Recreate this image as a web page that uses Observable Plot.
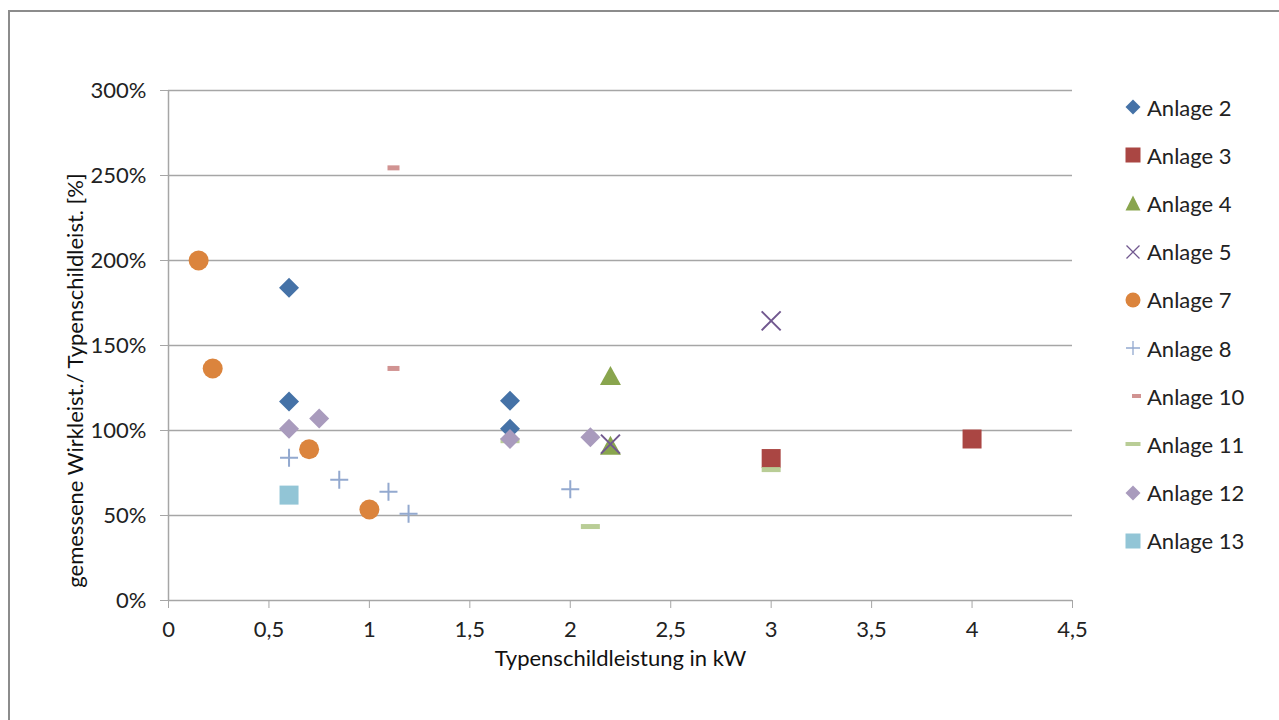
<!DOCTYPE html>
<html>
<head>
<meta charset="utf-8">
<script src="https://cdn.jsdelivr.net/npm/d3@7"></script>
<script src="https://cdn.jsdelivr.net/npm/@observablehq/plot@0.6"></script>
<style>
  html, body { margin: 0; padding: 0; background: #fff; width: 1279px; height: 720px; overflow: hidden; }
  #wrap { position: relative; width: 1279px; height: 720px; font-family: Lato, "Open Sans", sans-serif; }
  #border { position: absolute; left: 8px; top: 10px; width: 1400px; height: 800px; border-left: 2px solid #8c8c8c; border-top: 2px solid #8c8c8c; pointer-events: none; }
  #chart { position: absolute; left: 0; top: 0; }
  #legend { position: absolute; left: 1120px; top: 83px; }
  .item { display: flex; align-items: center; height: 48.2px; font-size: 22px; color: #222; }
  .item svg { width: 26px; height: 20px; margin-right: 1px; }
</style>
</head>
<body>
<div id="wrap">
  <div id="chart"></div>
  <div id="legend"></div>
  <div id="border"></div>
</div>
<script>
// ---- data ----
const seriesNames = ["Anlage 2","Anlage 3","Anlage 4","Anlage 5","Anlage 7","Anlage 8","Anlage 10","Anlage 11","Anlage 12","Anlage 13"];
const seriesColors = ["#4572A7","#AA4643","#89A54E","#71588F","#DB843D","#93A9CF","#D19392","#B9CD96","#A99BBD","#92C5D6"];

const a2x = [0.6, 0.6, 1.7, 1.7];          const a2y = [1.84, 1.17, 1.175, 1.01];
const a3x = [3, 4];                        const a3y = [0.835, 0.95];
const a4x = [2.2, 2.2];                    const a4y = [1.32, 0.91];
const a5x = [3, 2.2];                      const a5y = [1.645, 0.92];
const a7x = [0.15, 0.22, 0.7, 1.0];        const a7y = [2.0, 1.365, 0.89, 0.535];
const a8x = [0.6, 0.85, 1.095, 1.195, 2.0];const a8y = [0.84, 0.71, 0.64, 0.51, 0.655];
const a10x = [1.12, 1.12];                 const a10y = [2.545, 1.365];
const a11x = [2.1, 3, 1.7];                const a11y = [0.435, 0.77, 0.94];
const a12x = [0.6, 0.75, 1.7, 2.1];        const a12y = [1.01, 1.07, 0.95, 0.96];
const a13x = [0.6];                        const a13y = [0.62];

const xTicks = [0, 0.5, 1, 1.5, 2, 2.5, 3, 3.5, 4, 4.5];
const yTicks = [0, 0.5, 1, 1.5, 2, 2.5, 3];
const xTitle = "Typenschildleistung in kW";
const yTitle = "gemessene Wirkleist./ Typenschildleist. [%]";

// ---- custom symbols ----
const sym = {
  diamond: {draw(c){ const r=10; c.moveTo(0,-r); c.lineTo(r,0); c.lineTo(0,r); c.lineTo(-r,0); c.closePath(); }},
  square: {draw(c){ const r=9.5; c.moveTo(-r,-r); c.lineTo(r,-r); c.lineTo(r,r); c.lineTo(-r,r); c.closePath(); }},
  triangle: {draw(c){ c.moveTo(0,-10); c.lineTo(10.5,9); c.lineTo(-10.5,9); c.closePath(); }},
  times: {draw(c){ const r=9.5; c.moveTo(-r,-r); c.lineTo(r,r); c.moveTo(r,-r); c.lineTo(-r,r); }},
  circle: {draw(c){ const r=10; c.moveTo(r,0); c.arc(0,0,r,0,2*Math.PI); c.closePath(); }},
  plus: {draw(c){ const r=9; c.moveTo(-r,0); c.lineTo(r,0); c.moveTo(0,-r); c.lineTo(0,r); }},
  dashS: {draw(c){ const w=6, h=2.5; c.moveTo(-w,-h); c.lineTo(w,-h); c.lineTo(w,h); c.lineTo(-w,h); c.closePath(); }},
  dashL: {draw(c){ const w=9.5, h=2.5; c.moveTo(-w,-h); c.lineTo(w,-h); c.lineTo(w,h); c.lineTo(-w,h); c.closePath(); }}
};

const filled = (xs, ys, s, col) => Plot.dot(xs, {x: xs, y: ys, symbol: s, fill: col, stroke: "none"});
const stroked = (xs, ys, s, col) => Plot.dot(xs, {x: xs, y: ys, symbol: s, fill: "none", stroke: col, strokeWidth: 2});

const chart = Plot.plot({
  width: 1279,
  height: 720,
  marginLeft: 168,
  marginRight: 207,
  marginTop: 90,
  marginBottom: 120,
  style: {fontFamily: "Lato, 'Open Sans', sans-serif", fontSize: "22px", background: "transparent", overflow: "visible"},
  x: {domain: [0, 4.5]},
  y: {domain: [0, 3]},
  marks: [
    Plot.ruleY(yTicks, {stroke: "#a6a6a6", strokeWidth: 1.5}),
    Plot.ruleX([0], {stroke: "#a6a6a6", strokeWidth: 1.5}),
    Plot.axisY({ticks: yTicks, tickFormat: d => Math.round(d * 100) + "%", tickSize: 8, tickPadding: 14,
      stroke: "#a6a6a6", fill: "#222", fontSize: 22, label: null}),
    Plot.axisX({ticks: xTicks, tickFormat: d => String(d).replace(".", ","), tickSize: 8, tickPadding: 13,
      stroke: "#a6a6a6", fill: "#222", fontSize: 22, label: null}),
    Plot.text([yTitle], {frameAnchor: "left", textAnchor: "middle", text: d => d, rotate: -90, dx: -93, dy: 35, fill: "#111", fontSize: 22}),
    Plot.text([xTitle], {frameAnchor: "bottom", text: d => d, dy: 65, fill: "#111", fontSize: 22}),
    filled(a2x, a2y, sym.diamond, seriesColors[0]),
    filled(a3x, a3y, sym.square, seriesColors[1]),
    filled(a4x, a4y, sym.triangle, seriesColors[2]),
    stroked(a5x, a5y, sym.times, seriesColors[3]),
    filled(a7x, a7y, sym.circle, seriesColors[4]),
    stroked(a8x, a8y, sym.plus, seriesColors[5]),
    filled(a10x, a10y, sym.dashS, seriesColors[6]),
    filled(a11x, a11y, sym.dashL, seriesColors[7]),
    filled(a12x, a12y, sym.diamond, seriesColors[8]),
    filled(a13x, a13y, sym.square, seriesColors[9])
  ]
});
document.getElementById("chart").appendChild(chart);

// ---- legend ----
const legendGlyphs = [
  c => `<path d="M13,2.5 L20.5,10 L13,17.5 L5.5,10Z" fill="${c}"/>`,
  c => `<rect x="5.5" y="2.5" width="15" height="15" fill="${c}"/>`,
  c => `<path d="M13,2.5 L20.5,17.5 L5.5,17.5Z" fill="${c}"/>`,
  c => `<path d="M6.5,3.5 L19.5,16.5 M19.5,3.5 L6.5,16.5" stroke="${c}" stroke-width="1.3" fill="none"/>`,
  c => `<circle cx="13" cy="10" r="7.5" fill="${c}"/>`,
  c => `<path d="M6,10 L20,10 M13,3 L13,17" stroke="${c}" stroke-width="1.3" fill="none"/>`,
  c => `<rect x="12" y="8" width="9" height="4" fill="${c}"/>`,
  c => `<rect x="5.5" y="8" width="15" height="4" fill="${c}"/>`,
  c => `<path d="M13,2.5 L20.5,10 L13,17.5 L5.5,10Z" fill="${c}"/>`,
  c => `<rect x="5.5" y="2.5" width="15" height="15" fill="${c}"/>`
];
const legend = document.getElementById("legend");
seriesNames.forEach((name, i) => {
  const row = document.createElement("div");
  row.className = "item";
  row.innerHTML = `<svg viewBox="0 0 26 20">${legendGlyphs[i](seriesColors[i])}</svg><span>${name}</span>`;
  legend.appendChild(row);
});
</script>
</body>
</html>
